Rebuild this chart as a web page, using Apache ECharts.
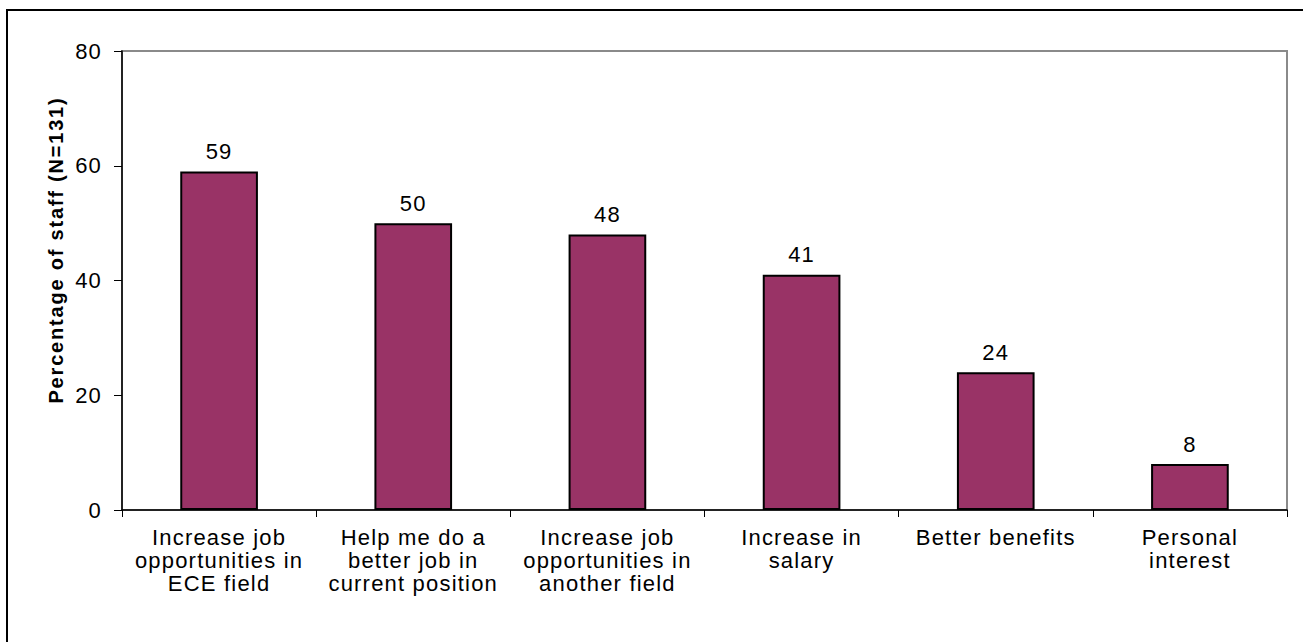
<!DOCTYPE html>
<html>
<head>
<meta charset="utf-8">
<script src="https://cdn.jsdelivr.net/npm/echarts@6/dist/echarts.min.js"></script>
<style>
html,body{margin:0;padding:0;background:#fff;}
#chart{width:1303px;height:642px;}
</style>
</head>
<body>
<div id="chart"></div>
<script>
const categories = [
  "Increase job\nopportunities in\nECE field",
  "Help me do a\nbetter job in\ncurrent position",
  "Increase job\nopportunities in\nanother field",
  "Increase in\nsalary",
  "Better benefits",
  "Personal\ninterest"
];
const values = [59, 50, 48, 41, 24, 8];
const yTicks = [0, 20, 40, 60, 80];
const yTitle = "Percentage of staff (N=131)";

const chart = echarts.init(document.getElementById('chart'), null, {renderer: 'svg'});
const font = 'Liberation Sans, Arial, sans-serif';
chart.setOption({
  animation: false,
  backgroundColor: '#fff',
  grid: {left: 122, top: 51, right: 16, bottom: 132, show: true, borderColor: '#8a8a8a', borderWidth: 2, containLabel: false},
  graphic: [
    {type: 'rect', shape: {x: 7, y: 10, width: 1400, height: 800}, style: {fill: 'none', stroke: '#000', lineWidth: 2}, z: 100},
    {type: 'text', x: 56, y: 250, rotation: Math.PI / 2, style: {text: yTitle, font: 'bold 20px ' + font, fill: '#000', align: 'center', verticalAlign: 'middle'}}
  ],
  xAxis: {
    type: 'category',
    data: categories,
    axisLine: {show: true, lineStyle: {color: '#000', width: 1.5}},
    axisTick: {show: true, length: 7, lineStyle: {color: '#000'}},
    axisLabel: {color: '#000', fontFamily: font, fontSize: 22, lineHeight: 23, margin: 16, interval: 0}
  },
  yAxis: {
    type: 'value',
    min: yTicks[0], max: yTicks[yTicks.length - 1], interval: 20,
    splitLine: {show: false},
    axisLine: {show: true, lineStyle: {color: '#000', width: 1.5}},
    axisTick: {show: true, length: 8, lineStyle: {color: '#000'}},
    axisLabel: {color: '#000', fontFamily: font, fontSize: 22, margin: 20, padding: [8, 0, 0, 0]}
  },
  series: [{
    type: 'bar',
    data: values,
    barWidth: '40%',
    itemStyle: {color: '#993366', borderColor: '#000', borderWidth: 2},
    label: {show: true, position: 'top', distance: 9, color: '#000', fontFamily: font, fontSize: 22}
  }]
});
document.querySelectorAll('#chart svg text').forEach(function (t) {
  const sp = t.textContent.indexOf('Percentage') >= 0 ? '1.8px' : '1.2px';
  t.setAttribute('letter-spacing', sp);
  t.style.letterSpacing = sp;
});
</script>
</body>
</html>
